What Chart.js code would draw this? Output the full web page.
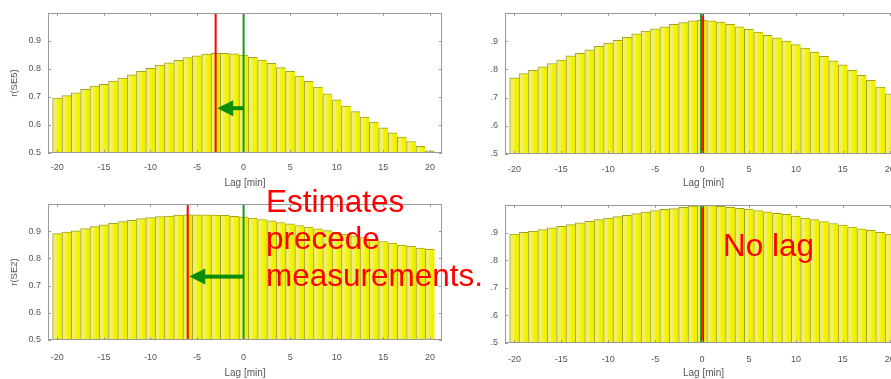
<!DOCTYPE html>
<html>
<head>
<meta charset="utf-8">
<script src="https://cdn.jsdelivr.net/npm/chart.js@4.4.1/dist/chart.umd.min.js"></script>
<style>
  html, body { margin: 0; padding: 0; background: #fff; }
  body { width: 891px; height: 379px; overflow: hidden; position: relative;
         font-family: "Liberation Sans", Arial, sans-serif; }
  .clip { position: absolute; overflow: hidden; }
  .clip canvas { position: absolute; top: 0; }
  .note { position: absolute; color: #ff0000; font-size: 31.5px; line-height: 37px; white-space: nowrap; }
</style>
</head>
<body>
<div class="clip" style="left:0;top:0;width:450px;height:190px"><canvas id="c0" width="450" height="190" style="left:0"></canvas></div>
<div class="clip" style="left:491px;top:0;width:400px;height:190px"><canvas id="c1" width="472" height="190" style="left:-51px"></canvas></div>
<div class="clip" style="left:0;top:190px;width:450px;height:189px"><canvas id="c2" width="450" height="189" style="left:0"></canvas></div>
<div class="clip" style="left:491px;top:190px;width:400px;height:189px"><canvas id="c3" width="472" height="189" style="left:-51px"></canvas></div>

<div class="note" style="left:266px;top:183px">Estimates<br>precede<br>measurements.</div>
<div class="note" style="left:723px;top:227px">No lag</div>

<script>
// lag axis (minutes)
const lags = [-20, -19, -18, -17, -16, -15, -14, -13, -12, -11,
              -10, -9, -8, -7, -6, -5, -4, -3, -2, -1,
              0, 1, 2, 3, 4, 5, 6, 7, 8, 9, 10,
              11, 12, 13, 14, 15, 16, 17, 18, 19, 20];

// cross-correlation values, one list per panel
const corrTopLeft = [0.696, 0.705, 0.715, 0.727, 0.739, 0.745, 0.757, 0.768, 0.779, 0.792,
                     0.802, 0.814, 0.822, 0.831, 0.841, 0.847, 0.853, 0.856, 0.856, 0.854,
                     0.850, 0.842, 0.832, 0.820, 0.805, 0.792, 0.775, 0.756, 0.735, 0.711, 0.690,
                     0.668, 0.648, 0.628, 0.610, 0.590, 0.572, 0.557, 0.541, 0.524, 0.508];
const corrTopRight = [0.770, 0.785, 0.797, 0.809, 0.821, 0.833, 0.848, 0.857, 0.869, 0.882,
                      0.893, 0.903, 0.914, 0.926, 0.936, 0.944, 0.951, 0.960, 0.966, 0.972,
                      0.974, 0.972, 0.968, 0.960, 0.951, 0.942, 0.932, 0.921, 0.912, 0.900, 0.888,
                      0.876, 0.861, 0.846, 0.830, 0.816, 0.797, 0.779, 0.761, 0.737, 0.713];
const corrBottomLeft = [0.891, 0.897, 0.901, 0.910, 0.917, 0.923, 0.929, 0.935, 0.940, 0.946,
                        0.950, 0.954, 0.956, 0.959, 0.960, 0.960, 0.960, 0.959, 0.958, 0.955,
                        0.953, 0.948, 0.943, 0.938, 0.932, 0.927, 0.921, 0.915, 0.909, 0.902, 0.896,
                        0.889, 0.883, 0.877, 0.869, 0.862, 0.856, 0.849, 0.844, 0.838, 0.833];
const corrBottomRight = [0.895, 0.901, 0.905, 0.911, 0.917, 0.923, 0.929, 0.935, 0.941, 0.947,
                         0.953, 0.958, 0.963, 0.969, 0.974, 0.980, 0.984, 0.987, 0.992, 0.996,
                         0.999, 0.998, 0.995, 0.992, 0.988, 0.985, 0.980, 0.975, 0.970, 0.966, 0.960,
                         0.953, 0.947, 0.940, 0.933, 0.927, 0.920, 0.914, 0.908, 0.901, 0.895];

const yTitles = ["r(SE5)", "r(SE5)", "r(SE2)", "r(SE2)"];
const measuredLag = [0, 0, 0, 0];      // green line
const estimatedLag = [-3, 0, -6, 0];   // red line
const arrowLevel = [0.66, null, 0.733, null];

// layout of each panel (px)
const panels = [
    { id: "c0", values: corrTopLeft,     padTop: 13, padRight: 8,  yWidth: 48, xHeight: 37, tickPad: 9,  titlePad: 1 },
    { id: "c1", values: corrTopRight,    padTop: 13, padRight: 10, yWidth: 65, xHeight: 36, tickPad: 10, titlePad: 1 },
    { id: "c2", values: corrBottomLeft,  padTop: 14, padRight: 8,  yWidth: 48, xHeight: 39, tickPad: 12, titlePad: 0 },
    { id: "c3", values: corrBottomRight, padTop: 15, padRight: 10, yWidth: 65, xHeight: 36, tickPad: 11, titlePad: 0 },
];

const FONT = "'Liberation Sans', Arial, sans-serif";
const AXIS_GREY = "#9a9a9a";
const TEXT_GREY = "#555";

// bars get a pale-to-bright yellow shading like the matlab export
function barFill(ctx) {
    const chart = ctx.chart;
    if (!chart.chartArea || ctx.type !== "data") return "#f2f200";
    const xs = chart.scales.x;
    const cx = xs.getPixelForValue(ctx.parsed.x);
    const half = (xs.getPixelForValue(1) - xs.getPixelForValue(0)) / 2;
    const g = chart.ctx.createLinearGradient(cx - half, 0, cx + half, 0);
    g.addColorStop(0, "#eeee88");
    g.addColorStop(0.4, "#f0f060");
    g.addColorStop(0.55, "#f5f500");
    g.addColorStop(1, "#ecec00");
    return g;
}

const panelDecor = {
    id: "panelDecor",
    afterDatasetsDraw(chart, args, o) {
        const { ctx, chartArea: a, scales: { x, y } } = chart;
        ctx.save();
        ctx.beginPath();
        ctx.rect(a.left, a.top, a.right - a.left, a.bottom - a.top);
        ctx.clip();

        const same = o.measured === o.estimated;
        const xm = x.getPixelForValue(o.measured) - (same ? 1 : 0);
        const xe = x.getPixelForValue(o.estimated) + (same ? 1 : 0);

        ctx.lineWidth = 2;
        ctx.strokeStyle = "#159a15";
        ctx.beginPath();
        ctx.moveTo(xm, a.top);
        ctx.lineTo(xm, a.bottom);
        ctx.stroke();

        ctx.strokeStyle = "#ff0000";
        ctx.beginPath();
        ctx.moveTo(xe, a.top);
        ctx.lineTo(xe, a.bottom);
        ctx.stroke();

        if (o.arrow != null) {
            const ya = y.getPixelForValue(o.arrow);
            const tip = xe + 1.5;
            ctx.fillStyle = "#0b8c0b";
            ctx.fillRect(tip + 15, ya - 2, xm - tip - 15, 4);
            ctx.beginPath();
            ctx.moveTo(tip, ya);
            ctx.lineTo(tip + 16, ya - 8);
            ctx.lineTo(tip + 16, ya + 8);
            ctx.closePath();
            ctx.fill();
        }
        ctx.restore();
    },
    afterDraw(chart) {
        const { ctx, chartArea: a, scales: { x, y } } = chart;
        ctx.save();
        ctx.strokeStyle = AXIS_GREY;
        ctx.lineWidth = 1;
        ctx.strokeRect(a.left + 0.5, a.top + 0.5, a.right - a.left - 1, a.bottom - a.top - 1);
        ctx.beginPath();
        x.ticks.forEach(t => {
            const px = Math.round(x.getPixelForValue(t.value)) + 0.5;
            ctx.moveTo(px, a.bottom); ctx.lineTo(px, a.bottom - 3);
            ctx.moveTo(px, a.top);    ctx.lineTo(px, a.top + 3);
        });
        y.ticks.forEach(t => {
            const py = Math.round(y.getPixelForValue(t.value)) + 0.5;
            ctx.moveTo(a.left, py);  ctx.lineTo(a.left + 3, py);
            ctx.moveTo(a.right, py); ctx.lineTo(a.right - 3, py);
        });
        ctx.stroke();
        ctx.restore();
    },
};

panels.forEach((p, i) => {
    new Chart(document.getElementById(p.id), {
        type: "bar",
        data: {
            datasets: [{
                data: lags.map((l, k) => ({ x: l, y: p.values[k] })),
                backgroundColor: barFill,
                borderColor: "#a3a31a",
                borderWidth: { top: 1, left: 1, right: 0, bottom: 0 },
                borderSkipped: "bottom",
                barPercentage: 1,
                categoryPercentage: 1,
            }],
        },
        options: {
            responsive: false,
            animation: false,
            devicePixelRatio: 1,
            layout: { padding: { top: p.padTop, right: p.padRight, left: 0, bottom: 0 } },
            plugins: {
                legend: { display: false },
                tooltip: { enabled: false },
                panelDecor: { measured: measuredLag[i], estimated: estimatedLag[i], arrow: arrowLevel[i] },
            },
            scales: {
                x: {
                    type: "linear",
                    min: -21,
                    max: 21.3,
                    offset: false,
                    grid: { display: false, drawTicks: false },
                    border: { display: false },
                    ticks: {
                        stepSize: 5,
                        includeBounds: false,
                        autoSkip: false,
                        maxRotation: 0,
                        padding: p.tickPad,
                        color: TEXT_GREY,
                        font: { size: 9, family: FONT },
                    },
                    title: {
                        display: true,
                        text: "Lag [min]",
                        color: TEXT_GREY,
                        font: { size: 10, family: FONT },
                        padding: { top: 0, bottom: p.titlePad },
                    },
                    afterFit: (s) => { s.height = p.xHeight; },
                },
                y: {
                    min: 0.5,
                    max: 1.0,
                    grid: { display: false, drawTicks: false },
                    border: { display: false },
                    ticks: {
                        stepSize: 0.1,
                        padding: 7,
                        color: TEXT_GREY,
                        font: { size: 9, family: FONT },
                        callback: (v) => (v > 0.95 ? "" : v.toFixed(1)),
                    },
                    title: {
                        display: true,
                        text: yTitles[i],
                        color: TEXT_GREY,
                        font: { size: 9.5, family: FONT },
                        padding: { top: 9, bottom: 0 },
                    },
                    afterFit: (s) => { s.width = p.yWidth; },
                },
            },
        },
        plugins: [panelDecor],
    });
});
</script>
</body>
</html>
